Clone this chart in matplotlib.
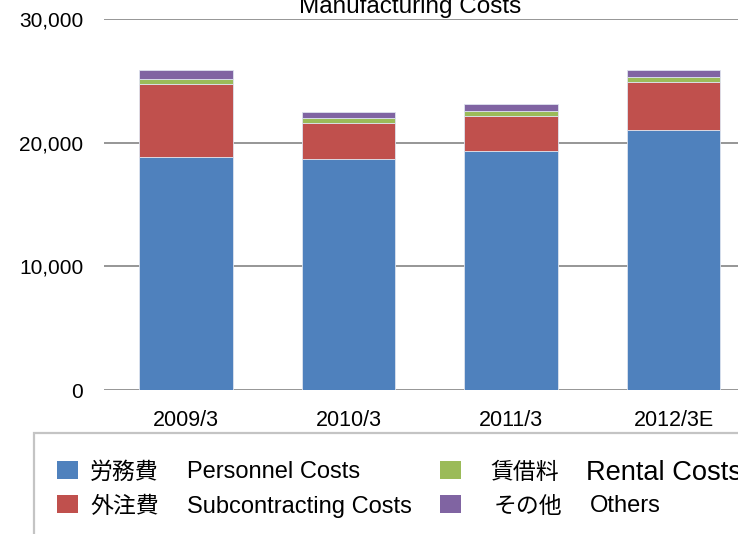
import matplotlib
matplotlib.use("Agg")
import matplotlib.pyplot as plt
from matplotlib.patches import Rectangle
from matplotlib.ticker import FuncFormatter

categories = ["2009/3", "2010/3", "2011/3", "2012/3E"]
personnel = [18820, 18680, 19300, 21000]
subcontracting = [5950, 2910, 2880, 3930]
rental = [380, 380, 400, 360]
others = [750, 510, 510, 610]
yticks = [0, 10000, 20000, 30000]
title = "Manufacturing Costs"
legend_jp = ["労務費", "外注費", "賃借料", "その他"]
legend_en = ["Personnel Costs", "Subcontracting Costs", "Rental Costs", "Others"]
colors = ["#4F81BD", "#C0504D", "#9BBB59", "#8064A2"]

LATIN = ["Liberation Sans", "DejaVu Sans"]
CJK = ["Noto Sans CJK JP", "DejaVu Sans"]
plt.rcParams["font.family"] = LATIN

W, H = 738, 534
fig = plt.figure(figsize=(W / 100, H / 100), dpi=100)

def fx(px):
    return px / W

def fy(py):
    return 1 - py / H

ax_left, ax_right = 104, 755
ax_top, ax_bot = 19, 390.1
ax = fig.add_axes([fx(ax_left), fy(ax_bot), (ax_right - ax_left) / W, (ax_bot - ax_top) / H])

x = list(range(len(categories)))
series = [personnel, subcontracting, rental, others]
bottom = [0] * len(categories)
for vals, c in zip(series, colors):
    ax.bar(x, vals, width=0.575, bottom=bottom, color=c, edgecolor="#dde3ee", linewidth=0.6, zorder=3)
    bottom = [b + v for b, v in zip(bottom, vals)]

ax.set_xlim(-0.505, 3.5)
ax.set_ylim(0, 30000)
ax.set_yticks(yticks)
ax.yaxis.set_major_formatter(FuncFormatter(lambda v, p: f"{int(v):,}"))
ax.set_xticks(x)
ax.set_xticklabels(categories)
ax.grid(axis="y", color="#929292", linewidth=1.35, zorder=0)
ax.set_axisbelow(True)
for s in ax.spines.values():
    s.set_visible(False)
ax.tick_params(axis="y", length=0, pad=15, labelsize=15)
ax.tick_params(axis="x", length=0, pad=14, labelsize=15.5)
for lab in ax.get_yticklabels():
    lab.set_verticalalignment("center_baseline")

fig.text(fx(410), fy(13), title, ha="center", va="baseline", fontsize=17.5)

# legend box
fig.add_artist(Rectangle((fx(34), fy(560)), fx(760), 127 / H, transform=fig.transFigure,
                         facecolor="none", edgecolor="#c4c4c4", linewidth=1.6, clip_on=False))

rows = [470, 504]
entries = [
    (57, 90, 187, rows[0], 0, 17),
    (57, 90, 187, rows[1], 1, 17),
    (440, 490, 586, rows[0], 2, 19.6),
    (440, 494, 590, rows[1], 3, 17),
]
for sx, jx, ex, cy, i, efs in entries:
    fig.add_artist(Rectangle((fx(sx), fy(cy + 9)), fx(21), 18 / H, transform=fig.transFigure,
                             facecolor=colors[i], edgecolor="none"))
    fig.text(fx(jx), fy(cy), legend_jp[i], family=CJK, fontsize=16.5, va="center_baseline", ha="left")
    fig.text(fx(ex), fy(cy), legend_en[i], fontsize=efs, va="center_baseline", ha="left")

fig.savefig("out.png", dpi=100)
